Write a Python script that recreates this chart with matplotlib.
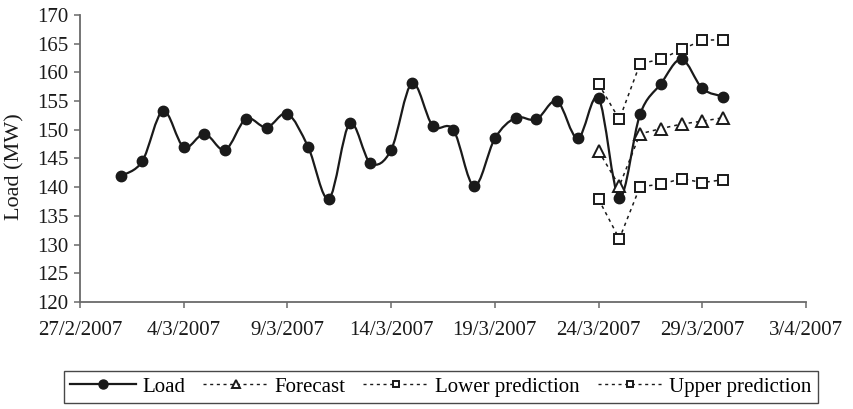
import datetime as dt
import numpy as np
import matplotlib
matplotlib.use('Agg')
import matplotlib.pyplot as plt
import matplotlib.dates as mdates
from matplotlib.path import Path
from matplotlib.patches import PathPatch
from matplotlib.lines import Line2D

plt.rcParams['font.family'] = ['Liberation Serif', 'DejaVu Serif']

# ---- data ----
load_dates = [dt.date(2007, 3, d) for d in range(1, 31)]
load = [142.0, 144.5, 153.3, 147.0, 149.3, 146.5, 151.9, 150.4, 152.8, 147.0,
        138.0, 151.1, 144.2, 146.5, 158.1, 150.7, 150.0, 140.2, 148.5, 152.1,
        151.8, 155.0, 148.5, 155.5, 138.2, 152.7, 158.0, 162.3, 157.2, 155.8]

fc_dates = [dt.date(2007, 3, d) for d in range(24, 31)]
forecast = [146.3, 140.2, 149.3, 150.2, 151.0, 151.5, 152.1]
lower = [137.9, 131.0, 140.1, 140.5, 141.5, 140.8, 141.3]
upper = [158.0, 151.8, 161.5, 162.3, 164.0, 165.6, 165.7]

tick_dates = [dt.date(2007, 2, 27) + dt.timedelta(days=5 * i) for i in range(8)]
tick_labels = [f"{d.day}/{d.month}/{d.year}" for d in tick_dates]
y_ticks = list(range(120, 171, 5))

# ---- figure ----
W, H = 854, 409
fig = plt.figure(figsize=(W / 100, H / 100), dpi=100)
ax = fig.add_axes([80 / W, 1 - 302 / H, (806 - 80) / W, (302 - 15) / H])

ink = '#1a1a1a'
axis_col = '#6a6a6a'
dash = (0, (2.2, 2.6))
FS = 15

# smoothed load curve (Bezier through the data points, Excel-like smoothing)
x = mdates.date2num(load_dates)
y = np.array(load)
P = np.column_stack([x, y])
Pext = np.vstack([P[0], P, P[-1]])
verts = [tuple(P[0])]
codes = [Path.MOVETO]
for i in range(len(P) - 1):
    p0, p1, p2, p3 = Pext[i], Pext[i + 1], Pext[i + 2], Pext[i + 3]
    c1 = p1 + (p2 - p0) / 6.0
    c2 = p2 - (p3 - p1) / 6.0
    verts += [tuple(c1), tuple(c2), tuple(p2)]
    codes += [Path.CURVE4] * 3
patch = PathPatch(Path(verts, codes), facecolor='none', edgecolor=ink, lw=1.6, zorder=3)
ax.add_patch(patch)
ax.plot(load_dates, load, 'o', color=ink, ms=7.5, ls='none', zorder=4)

for series in (upper, lower):
    ax.plot(fc_dates, series, ls=dash, color=ink, lw=1.1, marker='s', ms=6.5,
            mfc='white', mec=ink, mew=1.4, zorder=5)
ax.plot(fc_dates, forecast, ls=dash, color=ink, lw=1.1, marker='^', ms=8,
        mfc='white', mec=ink, mew=1.4, zorder=5)

ax.set_xlim(mdates.date2num(tick_dates[0]), mdates.date2num(tick_dates[-1]))
ax.set_ylim(120, 170)
ax.set_xticks(tick_dates)
ax.set_xticklabels(tick_labels)
ax.set_yticks(y_ticks)
ax.set_yticklabels([str(v) for v in y_ticks])

for s in ['top', 'right']:
    ax.spines[s].set_visible(False)
for s in ['left', 'bottom']:
    ax.spines[s].set_color(axis_col)
    ax.spines[s].set_linewidth(1.3)
ax.tick_params(axis='both', colors=axis_col, labelcolor=ink, labelsize=FS,
               length=4.5, width=1.1, direction='out')
ax.tick_params(axis='x', pad=9)
ax.tick_params(axis='y', pad=4)
ax.set_ylabel('Load (MW)', fontsize=16, color=ink)
ax.yaxis.set_label_coords(-0.077, 0.47)

handles = [
    Line2D([], [], color=ink, lw=1.6, marker='o', ms=6.5),
    Line2D([], [], color=ink, lw=1.0, ls=dash, marker='^', ms=5.5, mfc='white', mew=1.4),
    Line2D([], [], color=ink, lw=1.0, ls=dash, marker='s', ms=5, mfc='white', mew=1.4),
    Line2D([], [], color=ink, lw=1.0, ls=dash, marker='s', ms=5, mfc='white', mew=1.4),
]
labels = ['Load', 'Forecast', 'Lower prediction', 'Upper prediction']
leg = fig.legend(handles, labels, loc='center', bbox_to_anchor=(441 / W, 1 - 387 / H), ncol=4,
                 fontsize=FS, frameon=True, fancybox=False, handlelength=3.15,
                 handletextpad=0.3, columnspacing=0.85, borderpad=0.3, borderaxespad=0)
leg.get_frame().set_edgecolor(ink)
leg.get_frame().set_linewidth(1.0)

fig.savefig('out.png', dpi=100)
